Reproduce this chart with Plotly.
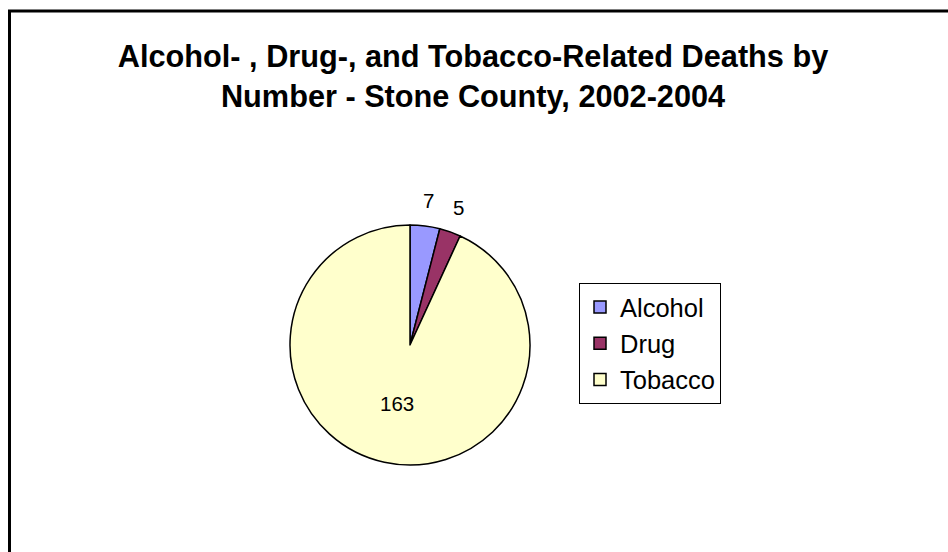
import math
import plotly.graph_objects as go

# Deaths by cause, Stone County 2002-2004
categories = ["Alcohol", "Drug", "Tobacco"]
deaths = [7, 5, 163]
slice_colors = ["#9999FF", "#993366", "#FFFFCC"]
# which slices carry their value inside the pie; the rest are labelled just outside
inside_label = [False, False, True]

title_text = "Alcohol- , Drug-, and Tobacco-Related Deaths by<br>Number - Stone County, 2002-2004"

W, H = 948, 552
FONT = "Liberation Sans, Arial, sans-serif"
LABEL_SIZE = 20.5

# pie placement in pixels
CX, CY, R = 410, 345, 120
dom_x = [(CX - R) / W, (CX + R) / W]
dom_y = [(H - CY - R) / H, (H - CY + R) / H]

fig = go.Figure(
    go.Pie(
        labels=categories,
        values=deaths,
        sort=False,
        direction="clockwise",
        rotation=0,
        marker=dict(colors=slice_colors, line=dict(color="black", width=1.5)),
        texttemplate=["%{value}" if inside else "" for inside in inside_label],
        textposition="inside",
        insidetextorientation="horizontal",
        textfont=dict(family=FONT, size=LABEL_SIZE, color="black"),
        domain=dict(x=dom_x, y=dom_y),
        hoverinfo="label+value",
    )
)

# value labels for the thin slices, set on each slice's bisector just beyond the rim
total = sum(deaths)
annotations = []
cum = 0
for value, inside in zip(deaths, inside_label):
    mid = (cum + value / 2) / total * 2 * math.pi
    cum += value
    if inside:
        continue
    r_lab = R + 26
    px = CX + r_lab * math.sin(mid)
    py = CY - r_lab * math.cos(mid)
    annotations.append(
        dict(
            x=px / W,
            y=1 - py / H,
            xref="paper",
            yref="paper",
            text=str(value),
            showarrow=False,
            xanchor="center",
            yanchor="middle",
            font=dict(family=FONT, size=LABEL_SIZE, color="black"),
        )
    )

fig.update_layout(
    width=W,
    height=H,
    margin=dict(l=0, r=0, t=0, b=0),
    paper_bgcolor="white",
    plot_bgcolor="white",
    font=dict(family=FONT, color="black"),
    title=dict(
        text=f"<b>{title_text}</b>",
        x=0.499,
        xanchor="center",
        y=1 - 67 / H,
        yanchor="top",
        font=dict(family=FONT, size=30.7, color="black"),
    ),
    legend=dict(
        x=579 / W,
        xanchor="left",
        y=1 - 283 / H,
        yanchor="top",
        bordercolor="black",
        borderwidth=1,
        bgcolor="white",
        font=dict(family=FONT, size=25.5, color="black"),
        tracegroupgap=0,
    ),
    annotations=annotations,
    shapes=[
        dict(
            type="rect",
            xref="paper",
            yref="paper",
            x0=9.5 / W,
            x1=1.05,
            y0=-0.05,
            y1=1 - 11 / H,
            line=dict(color="black", width=3),
            fillcolor="rgba(0,0,0,0)",
            layer="below",
        )
    ],
)

fig.write_html("out.html")
